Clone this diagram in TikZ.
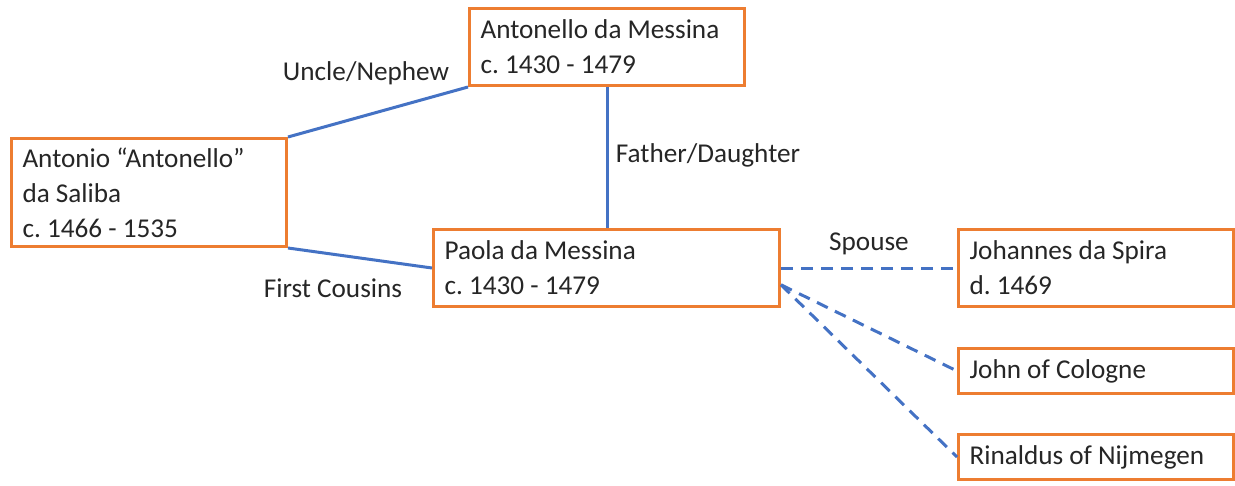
\documentclass[tikz,border=0pt]{standalone}
\usepackage{fontspec}
\setmainfont{Carlito}
\usetikzlibrary{calc}
\definecolor{boxorange}{HTML}{ED7D31}
\definecolor{linkblue}{HTML}{4472C4}
\frenchspacing
\begin{document}
\begin{tikzpicture}[x=0.5pt,y=-0.5pt,
  every node/.style={font=\fontsize{13.6pt}{17.5pt}\selectfont\frenchspacing, text=black!85},
  person/.style={draw=boxorange, line width=1.5pt, fill=white, align=flush left,
    inner xsep=5.5pt, inner ysep=0pt, anchor=north west},
  w275/.style={text width=126.5pt},
  w346/.style={text width=162pt},
  link/.style={draw=linkblue, line width=1.5pt},
  dlink/.style={draw=linkblue, line width=1.5pt, dash pattern=on 6pt off 4pt},
  rel/.style={anchor=base}]
\useasboundingbox (0,0) rectangle (1235,486);

\node[person, w275, minimum height=38.5pt] (a) at (468,7) {Antonello da Messina\\c. 1430 - 1479};
\node[person, w275, minimum height=54pt] (b) at (10,137) {Antonio “Antonello”\\da Saliba\\c. 1466 - 1535};
\node[person, w346, minimum height=38.5pt] (c) at (432,228) {Paola da Messina\\c. 1430 - 1479};
\node[person, w275, minimum height=38.5pt] (d) at (957,228) {Johannes da Spira\\d. 1469};
\node[person, w275, minimum height=22.5pt] (e) at (957,347) {John of Cologne};
\node[person, w275, minimum height=22.5pt] (f) at (957,433) {Rinaldus of Nijmegen};

\coordinate (cx) at ($(c.south east)!0.29!(c.north east)$);

\draw[link] (b.north east) -- (a.south west);
\draw[link] (a.south) -- (a.south |- c.north);
\draw[link] (b.south east) -- (c.west);
\draw[dlink] (c.east) -- (d.west);
\draw[dlink] (cx) -- (e.west);
\draw[dlink] (cx) -- (f.west);

\node[rel] (l1) at (366,81) {Uncle/Nephew};
\node[rel] (l2) at (708,163) {Father/Daughter};
\node[rel] (l3) at (333,297) {First Cousins};
\node[rel] (l4) at (869,250) {Spouse};
\end{tikzpicture}
\end{document}
